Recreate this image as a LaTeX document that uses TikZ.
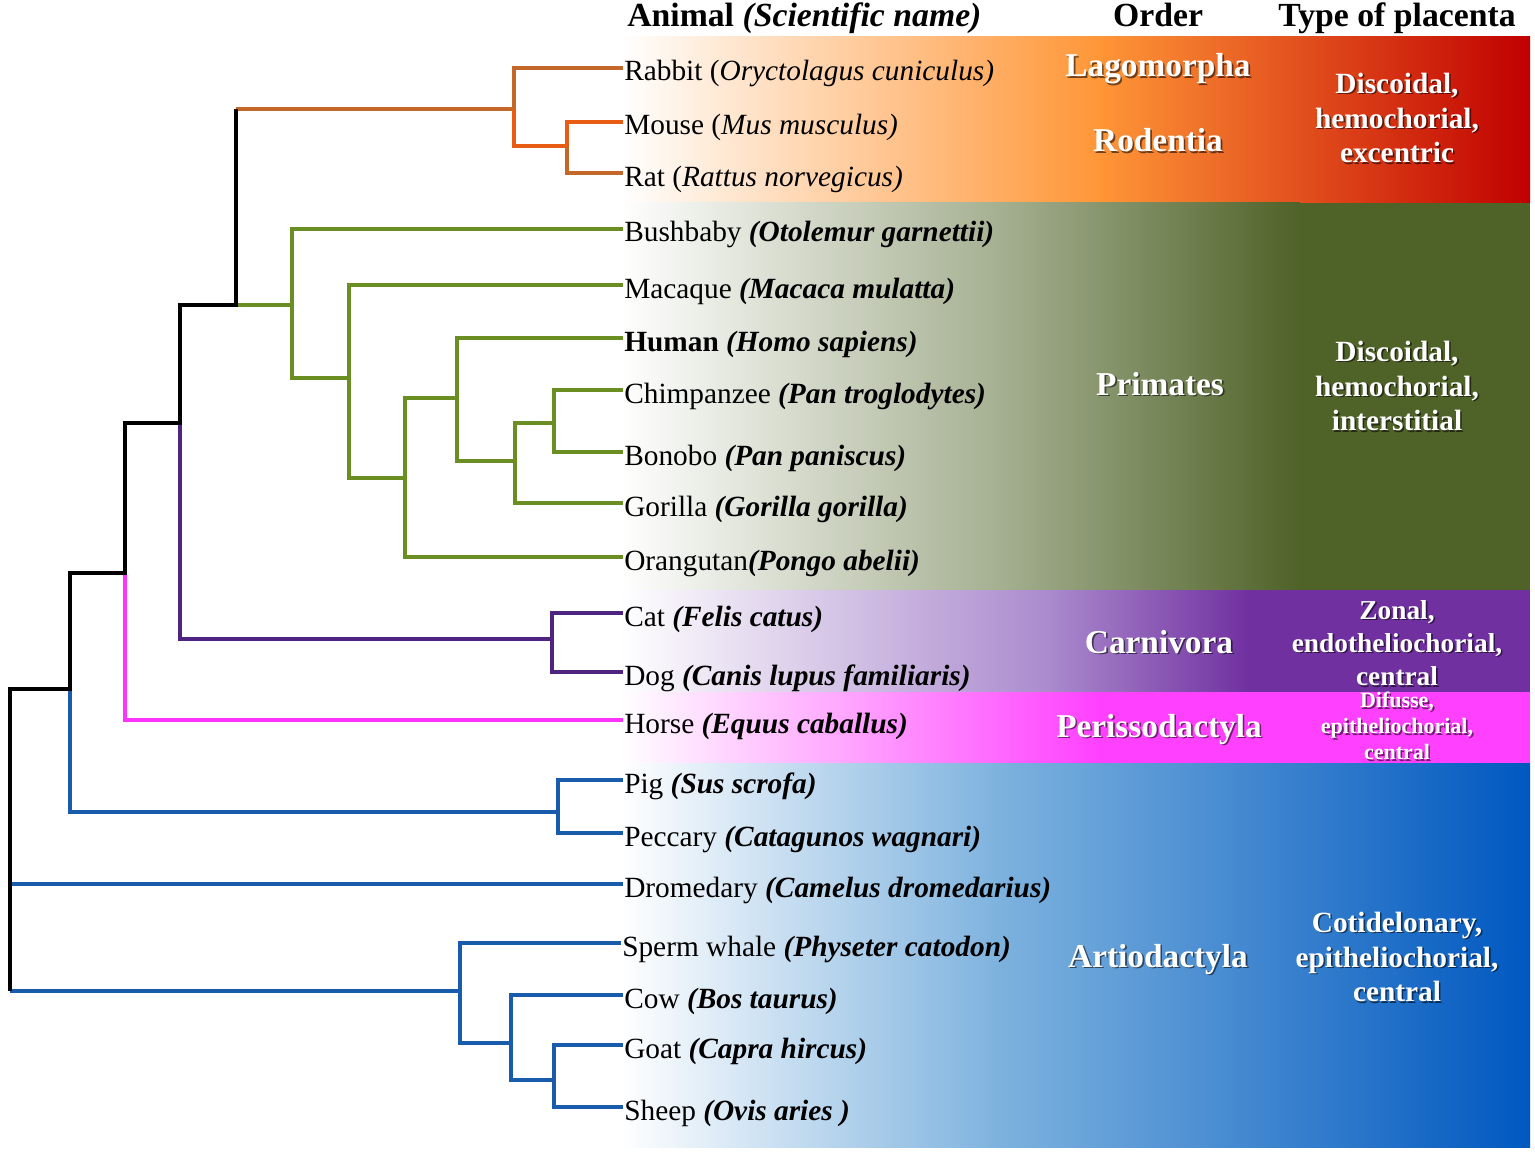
\documentclass[tikz,border=0pt]{standalone}
\usepackage{fontspec}
\setmainfont{Liberation Serif}

\definecolor{glirescol}{RGB}{196,104,42}
\definecolor{rodentcol}{RGB}{232,92,20}
\definecolor{primcol}{RGB}{107,142,35}
\definecolor{carncol}{RGB}{78,36,128}
\definecolor{horsecol}{RGB}{255,51,255}
\definecolor{artiocol}{RGB}{26,92,172}
\definecolor{bandorange}{RGB}{255,150,55}
\definecolor{bandred}{RGB}{192,0,0}
\definecolor{bandsage}{RGB}{165,176,145}
\definecolor{bandolive}{RGB}{79,98,40}
\definecolor{bandlilac}{RGB}{170,138,205}
\definecolor{bandpurple}{RGB}{112,48,160}
\definecolor{bandpink}{RGB}{255,64,255}
\definecolor{bandsky}{RGB}{125,178,222}
\definecolor{bandblue}{RGB}{0,88,192}

% white label with a soft dark shadow: style, name, position, text
\newcommand{\shadowed}[4]{%
  \node[#1,text=black,opacity=0.55] (#2sh) at ([shift={(1.6,1.6)}]#3) {#4};
  \node[#1] (#2) at (#3) {#4};}

\begin{document}
\begin{tikzpicture}[x=0.75pt,y=0.75pt,yscale=-1,xscale=1,
  branch/.style={line width=2.8pt},
  spine/.style={line width=3pt,black},
  leaf/.style={anchor=west,inner sep=0.75pt,text height=20pt,text depth=0.5pt,font=\fontsize{22}{26}\selectfont},
  head/.style={anchor=base,inner sep=0.75pt,font=\bfseries\fontsize{25.3}{30}\selectfont},
  order/.style={anchor=base,inner sep=0.75pt,text=white,font=\bfseries\fontsize{25}{30}\selectfont},
  placenta/.style={align=center,inner sep=0.75pt,text=white,font=\bfseries\fontsize{22}{26}\selectfont}]
\useasboundingbox (0,0) rectangle (1535,1152);

%Bands
\shade[left color=white,right color=bandorange] (620,37) rectangle (1100,203);
\shade[left color=bandorange,right color=bandred] (1099,37) rectangle (1530,203);
\shade[left color=white,right color=bandsage] (620,203) rectangle (1000,590);
\shade[left color=bandsage,right color=bandolive] (999,203) rectangle (1300,590);
\fill[bandolive] (1299,203) rectangle (1530,590);
\shade[left color=white,right color=bandlilac] (620,590) rectangle (1050,692);
\shade[left color=bandlilac,right color=bandpurple] (1049,590) rectangle (1250,692);
\fill[bandpurple] (1249,590) rectangle (1530,692);
\shade[left color=white,right color=bandpink] (620,692) rectangle (1100,763);
\fill[bandpink] (1099,692) rectangle (1530,763);
\shade[left color=white,right color=bandsky] (620,763) rectangle (1000,1147);
\shade[left color=bandsky,right color=bandblue] (999,763) rectangle (1530,1147);

% Text Node
\node[head,anchor=base west] (hanimal) at (626,27) {Animal \textit{(Scientific name)}};
\node[head] (horder) at (1158,27) {Order};
\node[head] (htype) at (1397,27) {Type of placenta};

% Leaves
\node[leaf] (rabbit) at (623,68) {Rabbit (\textit{Oryctolagus cuniculus)}};
\node[leaf] (mouse) at (623,122) {Mouse (\textit{Mus musculus)}};
\node[leaf] (rat) at (623,173) {Rat (\textit{Rattus norvegicus)}};
\node[leaf] (bushbaby) at (623,229) {Bushbaby \textbf{\textit{(Otolemur garnettii)}}};
\node[leaf] (macaque) at (623,285) {Macaque \textbf{\textit{(Macaca mulatta)}}};
\node[leaf] (human) at (623,338) {\textbf{Human} \textbf{\textit{(Homo sapiens)}}};
\node[leaf] (chimp) at (623,390) {Chimpanzee \textbf{\textit{(Pan troglodytes)}}};
\node[leaf] (bonobo) at (623,452) {Bonobo \textbf{\textit{(Pan paniscus)}}};
\node[leaf] (gorilla) at (623,503) {Gorilla \textbf{\textit{(Gorilla gorilla)}}};
\node[leaf] (orangutan) at (623,557) {Orangutan\textbf{\textit{(Pongo abelii)}}};
\node[leaf] (cat) at (623,613) {Cat \textbf{\textit{(Felis catus)}}};
\node[leaf] (dog) at (623,672) {Dog \textbf{\textit{(Canis lupus familiaris)}}};
\node[leaf] (horse) at (623,720) {Horse \textbf{\textit{(Equus caballus)}}};
\node[leaf] (pig) at (623,780) {Pig \textbf{\textit{(Sus scrofa)}}};
\node[leaf] (peccary) at (623,833) {Peccary \textbf{\textit{(Catagunos wagnari)}}};
\node[leaf] (dromedary) at (623,884) {Dromedary \textbf{\textit{(Camelus dromedarius)}}};
\node[leaf] (whale) at (621,943) {Sperm whale \textbf{\textit{(Physeter catodon)}}};
\node[leaf] (cow) at (623,995) {Cow \textbf{\textit{(Bos taurus)}}};
\node[leaf] (goat) at (623,1045) {Goat \textbf{\textit{(Capra hircus)}}};
\node[leaf] (sheep) at (623,1107) {Sheep \textbf{\textit{(Ovis aries )}}};

% Inner nodes
\coordinate (root) at (10,991);
\coordinate (nA) at (70,689);
\coordinate (nB) at (125,573);
\coordinate (nC) at (180,423);
\coordinate (nD) at (236,305);
\coordinate (glires) at (514,109);
\coordinate (rodent) at (567,146);
\coordinate (prim) at (292,305);
\coordinate (anth) at (349,378);
\coordinate (hom) at (405,478);
\coordinate (hominin) at (457,398);
\coordinate (hpg) at (515,461);
\coordinate (pan) at (554,423);
\coordinate (carn) at (552,639);
\coordinate (suina) at (558,812);
\coordinate (cetrum) at (460,991);
\coordinate (rum) at (511,1043);
\coordinate (capr) at (554,1080);

%Artiodactyla
\draw[branch,artiocol] (root) |- (dromedary.west);
\draw[branch,artiocol] (root) -- (cetrum);
\draw[branch,artiocol] (cetrum) |- (whale.west);
\draw[branch,artiocol] (cetrum) |- (rum);
\draw[branch,artiocol] (rum) |- (cow.west);
\draw[branch,artiocol] (rum) |- (capr);
\draw[branch,artiocol] (capr) |- (goat.west);
\draw[branch,artiocol] (capr) |- (sheep.west);
\draw[branch,artiocol] (nA) |- (suina);
\draw[branch,artiocol] (suina) |- (pig.west);
\draw[branch,artiocol] (suina) |- (peccary.west);
%Horse
\draw[branch,horsecol] (nB) |- (horse.west);
%Carnivora
\draw[branch,carncol] (nC) |- (carn);
\draw[branch,carncol] (carn) |- (cat.west);
\draw[branch,carncol] (carn) |- (dog.west);
%Primates
\draw[branch,primcol] (nD) -- (prim);
\draw[branch,primcol] (prim) |- (bushbaby.west);
\draw[branch,primcol] (prim) |- (anth);
\draw[branch,primcol] (anth) |- (macaque.west);
\draw[branch,primcol] (anth) |- (hom);
\draw[branch,primcol] (hom) |- (hominin);
\draw[branch,primcol] (hom) |- (orangutan.west);
\draw[branch,primcol] (hominin) |- (human.west);
\draw[branch,primcol] (hominin) |- (hpg);
\draw[branch,primcol] (hpg) |- (pan);
\draw[branch,primcol] (hpg) |- (gorilla.west);
\draw[branch,primcol] (pan) |- (chimp.west);
\draw[branch,primcol] (pan) |- (bonobo.west);
%Glires
\draw[branch,glirescol] (nD |- glires) -- (glires);
\draw[branch,glirescol] (glires) |- (rabbit.west);
\draw[branch,rodentcol] (glires) |- (rodent);
\draw[branch,rodentcol] (rodent) |- (mouse.west);
\draw[branch,glirescol] (rodent) |- (rat.west);
%Backbone
\draw[spine] (root) |- (nA) |- (nB) |- (nC) |- (nD) -- (nD |- glires);

% Orders
\shadowed{order}{lago}{1158,77}{Lagomorpha}
\shadowed{order}{rode}{1158,152}{Rodentia}
\shadowed{order}{prima}{1160,395}{Primates}
\shadowed{order}{carni}{1159,653}{Carnivora}
\shadowed{order}{periss}{1159,737}{Perissodactyla}
\shadowed{order}{artio}{1158,967}{Artiodactyla}

% Placenta types
\shadowed{placenta}{tglires}{1397,118}{Discoidal,\\hemochorial,\\excentric}
\shadowed{placenta}{tprim}{1397,386}{Discoidal,\\hemochorial,\\interstitial}
\shadowed{placenta,font=\bfseries\fontsize{20.5}{25}\selectfont}{tcarn}{1397,643}{Zonal,\\endotheliochorial,\\central}
\shadowed{placenta,font=\bfseries\fontsize{16.5}{19.5}\selectfont}{thorse}{1397,726}{Difusse,\\epitheliochorial,\\central}
\shadowed{placenta}{tartio}{1397,957}{Cotidelonary,\\epitheliochorial,\\central}

\end{tikzpicture}
\end{document}
